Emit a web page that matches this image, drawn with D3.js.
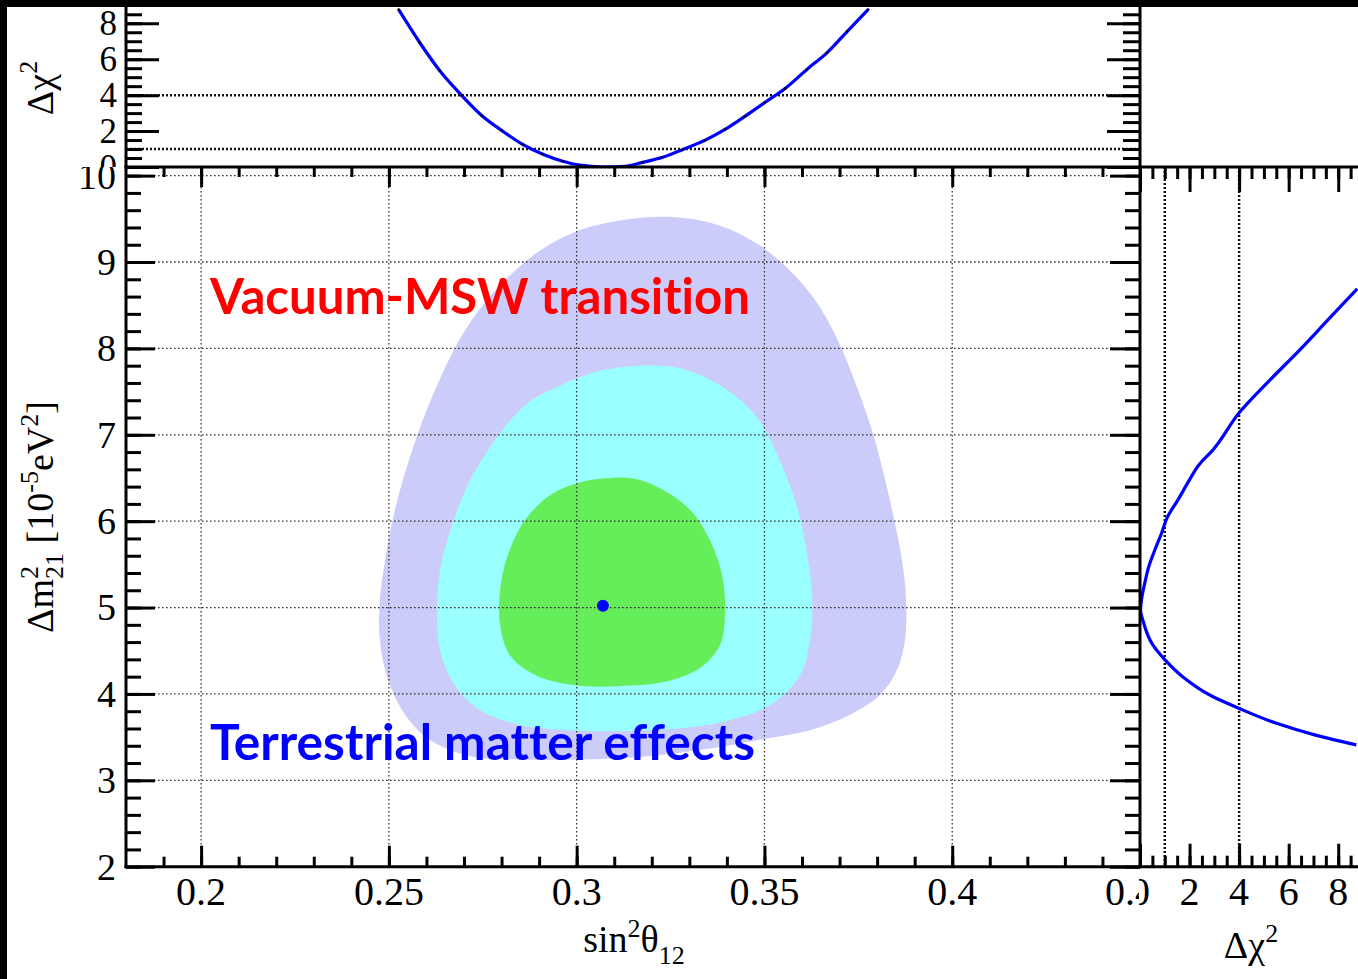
<!DOCTYPE html>
<html>
<head>
<meta charset="utf-8">
<script src="https://cdn.jsdelivr.net/npm/d3@7"></script>
<style>
  html, body { margin: 0; padding: 0; background: #fff; }
  svg { display: block; }
</style>
</head>
<body>
<svg id="chart" width="1358" height="979"></svg>
<script>
// ---------------- data ----------------
// Allowed regions in the (sin^2 theta12, dm2_21) plane, outer to inner
const outerRegion = [
  [0.3254, 9.52], [0.3382, 9.42], [0.3488, 9.19], [0.3568, 8.90], [0.3635, 8.56],
  [0.3696, 8.09], [0.3749, 7.52], [0.3794, 6.94], [0.3834, 6.24], [0.3866, 5.55],
  [0.3877, 5.09], [0.3874, 4.62], [0.3853, 4.28], [0.3808, 3.99], [0.3728, 3.76],
  [0.3621, 3.58], [0.3488, 3.47], [0.3328, 3.35], [0.3169, 3.27], [0.3009, 3.24],
  [0.2849, 3.24], [0.2716, 3.28], [0.2609, 3.47], [0.2543, 3.76], [0.2498, 4.16],
  [0.2476, 4.62], [0.2476, 5.09], [0.2490, 5.55], [0.2516, 6.13], [0.2562, 6.82],
  [0.2623, 7.52], [0.2703, 8.21], [0.2796, 8.73], [0.2902, 9.13], [0.3009, 9.37],
  [0.3129, 9.49]
];
const middleRegion = [
  [0.3169, 7.80], [0.3275, 7.77], [0.3382, 7.57], [0.3475, 7.23], [0.3541, 6.70],
  [0.3589, 6.13], [0.3616, 5.55], [0.3627, 5.09], [0.3621, 4.62], [0.3595, 4.22],
  [0.3515, 3.87], [0.3382, 3.67], [0.3195, 3.58], [0.2982, 3.58], [0.2849, 3.64],
  [0.2743, 3.81], [0.2676, 4.10], [0.2636, 4.51], [0.2628, 4.97], [0.2636, 5.43],
  [0.2668, 5.95], [0.2716, 6.47], [0.2783, 6.94], [0.2862, 7.34], [0.2956, 7.57],
  [0.3062, 7.74]
];
const innerRegion = [
  [0.3089, 6.50], [0.3155, 6.49], [0.3222, 6.38], [0.3302, 6.13], [0.3355, 5.78],
  [0.3387, 5.38], [0.3395, 4.97], [0.3382, 4.57], [0.3328, 4.30], [0.3235, 4.14],
  [0.3115, 4.09], [0.2996, 4.10], [0.2889, 4.22], [0.2822, 4.45], [0.2796, 4.80],
  [0.2796, 5.20], [0.2817, 5.61], [0.2862, 6.01], [0.2929, 6.30], [0.3009, 6.45]
];
const bestFit = [0.307, 5.02];

// Marginal delta-chi2 profile vs sin^2 theta12 (top panel)
const topProfileSin2 = [0.2526, 0.2582, 0.2635, 0.2694, 0.2747, 0.2800, 0.2856, 0.2910,
  0.2963, 0.3008, 0.3070, 0.3128, 0.3176, 0.3229, 0.3283, 0.3341, 0.3395, 0.3448,
  0.3501, 0.3555, 0.3613, 0.3667, 0.3720, 0.3776];
const topProfileChi2 = [8.76, 6.93, 5.37, 3.98, 2.87, 2.04, 1.26, 0.71,
  0.32, 0.10, 0.00, 0.04, 0.26, 0.54, 0.98, 1.48, 2.09, 2.82,
  3.59, 4.37, 5.43, 6.37, 7.54, 8.76];

// Marginal delta-chi2 profile vs dm2_21 (right panel)
const rightProfileDm2 = [8.69, 8.35, 7.98, 7.63, 7.26, 6.82, 6.66, 6.44, 6.24, 6.05,
  5.86, 5.66, 5.47, 5.28, 5.09, 4.97, 4.86, 4.57, 4.40, 4.20, 3.97, 3.84, 3.66, 3.52, 3.41];
const rightProfileChi2 = [8.77, 7.65, 6.44, 5.23, 4.02, 2.93, 2.40, 1.92, 1.52, 1.11,
  0.87, 0.59, 0.35, 0.19, 0.06, 0.02, 0.11, 0.51, 0.99, 1.72, 2.93, 3.94, 5.51, 7.12, 8.73];

// Tick values and labels
const xTickValues = [0.2, 0.25, 0.3, 0.35, 0.4, 0.45];
const xTickLabels = ["0.2", "0.25", "0.3", "0.35", "0.4", "0.45"];
const yTickValues = [2, 3, 4, 5, 6, 7, 8, 9, 10];
const yTickLabels = ["2", "3", "4", "5", "6", "7", "8", "9", "10"];
const chi2TickValues = [0, 2, 4, 6, 8];
const chi2TickLabels = ["0", "2", "4", "6", "8"];
const chi2Levels = [1, 4];

// ---------------- layout ----------------
const W = 1358, H = 979;
const L = 126, R = 1140, T = 167, B = 866.7, TT = 8, RR = 1363;
const serif = "'Liberation Serif', 'Times New Roman', serif";

const svg = d3.select("#chart");
const defs = svg.append("defs");

const x = d3.scaleLinear([0.18, 0.45], [L, R]);
const y = d3.scaleLinear([2, 10.1], [B, T]);
const yTop = d3.scaleLinear([0, 8.85], [T, TT]);
const xRight = d3.scaleLinear([0, 9], [R, RR]);

function clipRect(id, x0, y0, w, h) {
  defs.append("clipPath").attr("id", id)
    .append("rect").attr("x", x0).attr("y", y0).attr("width", w).attr("height", h);
}
clipRect("clipMain", L, T, R - L, B - T);
clipRect("clipTop", L, TT - 8, R - L, T - TT + 8);
clipRect("clipRight", R, T, RR - R, B - T);
clipRect("clipBelowTop", 0, T, W, H - T);
clipRect("clipAboveTop", 0, 0, W, T);
clipRect("clipLeftOfRight", 0, 0, R - 1, H);
clipRect("clipRightOfMain", R - 1, 0, W, H);

svg.append("rect").attr("width", W).attr("height", H).attr("fill", "#fff");

// ---------------- main panel: regions ----------------
const area = d3.line().x(d => x(d[0])).y(d => y(d[1])).curve(d3.curveCatmullRomClosed.alpha(0.5));
const regions = svg.append("g").attr("clip-path", "url(#clipMain)");
regions.append("path").attr("d", area(outerRegion)).attr("fill", "#ccccfb");
regions.append("path").attr("d", area(middleRegion)).attr("fill", "#99ffff");
regions.append("path").attr("d", area(innerRegion)).attr("fill", "#66ee5a");

// grid lines
const grid = svg.append("g").attr("stroke", "#333").attr("stroke-width", 1.3)
  .attr("stroke-dasharray", "1.6,2.4");
grid.selectAll(".gx").data(xTickValues.filter(v => v < 0.449)).join("line")
  .attr("x1", d => x(d)).attr("x2", d => x(d)).attr("y1", T).attr("y2", B);
grid.selectAll(".gy").data(yTickValues.filter(v => v > 2)).join("line")
  .attr("x1", L).attr("x2", R).attr("y1", d => y(d)).attr("y2", d => y(d));

// best fit point
svg.append("circle").attr("cx", x(bestFit[0])).attr("cy", y(bestFit[1]))
  .attr("r", 6).attr("fill", "#0000ff");

// annotations
const noteFont = "Lato, 'Open Sans', sans-serif";
const noLig = "font-variant-ligatures: none; font-feature-settings: 'liga' 0, 'clig' 0, 'calt' 0, 'dlig' 0;";
svg.append("text").attr("x", 210).attr("y", 314).attr("style", noLig)
  .attr("font-family", noteFont).attr("font-weight", 700)
  .attr("font-size", 50).attr("fill", "#ff0000")
  .attr("textLength", 540).attr("lengthAdjust", "spacingAndGlyphs")
  .text("Vacuum-MSW transition");
svg.append("text").attr("x", 210).attr("y", 760).attr("style", noLig)
  .attr("font-family", noteFont).attr("font-weight", 700)
  .attr("font-size", 50).attr("fill", "#0000ff")
  .attr("textLength", 545).attr("lengthAdjust", "spacingAndGlyphs")
  .text("Terrestrial matter effects");

// ---------------- top panel ----------------
const topG = svg.append("g").attr("clip-path", "url(#clipTop)");
topG.selectAll(".lvl").data(chi2Levels).join("line")
  .attr("x1", L).attr("x2", R).attr("y1", d => yTop(d)).attr("y2", d => yTop(d))
  .attr("stroke", "#111").attr("stroke-width", 2.5).attr("stroke-dasharray", "2,2");
const topPts = topProfileSin2.map((s, i) => [s, topProfileChi2[i]]);
topG.append("path")
  .attr("d", d3.line().x(d => x(d[0])).y(d => yTop(d[1])).curve(d3.curveMonotoneX)(topPts))
  .attr("fill", "none").attr("stroke", "#0000ff").attr("stroke-width", 3.2);
topG.selectAll(".mk").data(topPts).join("circle")
  .attr("cx", d => x(d[0])).attr("cy", d => yTop(d[1])).attr("r", 1.3).attr("fill", "#000");

// ---------------- right panel ----------------
const rightG = svg.append("g").attr("clip-path", "url(#clipRight)");
rightG.selectAll(".lvl").data(chi2Levels).join("line")
  .attr("x1", d => xRight(d)).attr("x2", d => xRight(d)).attr("y1", T).attr("y2", B)
  .attr("stroke", "#111").attr("stroke-width", 2.5).attr("stroke-dasharray", "2,2");
const rightPts = rightProfileDm2.map((m, i) => [rightProfileChi2[i], m]);
rightG.append("path")
  .attr("d", d3.line().x(d => xRight(d[0])).y(d => y(d[1])).curve(d3.curveMonotoneY)(rightPts))
  .attr("fill", "none").attr("stroke", "#0000ff").attr("stroke-width", 3.2);

// ---------------- axes / ticks ----------------
function tickGroup(gen, tx, ty) {
  const g = svg.append("g").attr("transform", `translate(${tx},${ty})`).call(gen);
  g.select(".domain").remove();
  g.selectAll(".tick text").remove();
  g.selectAll(".tick line").attr("stroke", "#000").attr("stroke-width", 3);
  return g;
}
const xMinor = d3.range(19, 46).map(v => v / 100);
const yMinor = d3.range(0, 41).map(i => 2 + i * 0.2);
const topMinor = d3.range(0, 18).map(i => i * 0.5);
const rightMinor = d3.range(0, 19).map(i => i * 0.5);

// main panel
tickGroup(d3.axisBottom(x).tickValues(xMinor).tickSize(-10), 0, B);
tickGroup(d3.axisBottom(x).tickValues(xTickValues).tickSize(-21), 0, B);
tickGroup(d3.axisTop(x).tickValues(xMinor).tickSize(-10), 0, T);
tickGroup(d3.axisTop(x).tickValues(xTickValues).tickSize(-20), 0, T);
tickGroup(d3.axisLeft(y).tickValues(yMinor).tickSize(-15), L, 0);
tickGroup(d3.axisLeft(y).tickValues(yTickValues).tickSize(-29), L, 0);
tickGroup(d3.axisRight(y).tickValues(yMinor).tickSize(-15), R, 0);
tickGroup(d3.axisRight(y).tickValues(yTickValues).tickSize(-30), R, 0);

// top panel
tickGroup(d3.axisLeft(yTop).tickValues(topMinor).tickSize(-16), L, 0);
tickGroup(d3.axisLeft(yTop).tickValues(chi2TickValues).tickSize(-33), L, 0);
tickGroup(d3.axisRight(yTop).tickValues(topMinor).tickSize(-17), R, 0);
tickGroup(d3.axisRight(yTop).tickValues(chi2TickValues).tickSize(-33), R, 0);

// right panel
tickGroup(d3.axisBottom(xRight).tickValues(rightMinor).tickSize(-11), 0, B);
tickGroup(d3.axisBottom(xRight).tickValues(chi2TickValues).tickSize(-23), 0, B);
tickGroup(d3.axisTop(xRight).tickValues(rightMinor).tickSize(-12), 0, T);
tickGroup(d3.axisTop(xRight).tickValues(chi2TickValues).tickSize(-25), 0, T);

// frame lines
const frame = svg.append("g").attr("stroke", "#000").attr("stroke-width", 3)
  .attr("stroke-linecap", "square");
frame.append("line").attr("x1", L).attr("x2", L).attr("y1", TT).attr("y2", B);
frame.append("line").attr("x1", L).attr("x2", W + 5).attr("y1", B).attr("y2", B);
frame.append("line").attr("x1", R).attr("x2", R).attr("y1", 0).attr("y2", B);
frame.append("line").attr("x1", L).attr("x2", W + 5).attr("y1", T).attr("y2", T);

// ---------------- tick labels ----------------
const labels = svg.append("g").attr("font-family", serif).attr("fill", "#000");

labels.append("g").attr("clip-path", "url(#clipLeftOfRight)")
  .selectAll("text").data(xTickValues).join("text")
  .attr("x", d => x(d)).attr("y", 905).attr("text-anchor", "middle")
  .attr("font-size", 40).text((d, i) => xTickLabels[i]);

labels.append("g").attr("clip-path", "url(#clipRightOfMain)")
  .selectAll("text").data(chi2TickValues).join("text")
  .attr("x", d => xRight(d)).attr("y", 905).attr("text-anchor", "middle")
  .attr("font-size", 40).text((d, i) => chi2TickLabels[i]);

labels.append("g").attr("clip-path", "url(#clipBelowTop)")
  .selectAll("text").data(yTickValues).join("text")
  .attr("x", 116).attr("y", d => y(d)).attr("dy", "0.34em").attr("text-anchor", "end")
  .attr("font-size", 38).text((d, i) => yTickLabels[i]);

labels.append("g").attr("clip-path", "url(#clipAboveTop)")
  .selectAll("text").data(chi2TickValues).join("text")
  .attr("x", 117).attr("y", d => yTop(d)).attr("dy", "0.34em").attr("text-anchor", "end")
  .attr("font-size", 35).text((d, i) => chi2TickLabels[i]);

// ---------------- axis titles ----------------
const xt = labels.append("text").attr("x", 634).attr("y", 952)
  .attr("text-anchor", "middle").attr("font-size", 38);
xt.append("tspan").text("sin");
xt.append("tspan").attr("font-size", 26).attr("dy", -15).text("2");
xt.append("tspan").attr("dy", 15).text("θ");
xt.append("tspan").attr("font-size", 26).attr("dy", 12).text("12");

const rt = labels.append("text").attr("x", 1251).attr("y", 958)
  .attr("text-anchor", "middle").attr("font-size", 38);
rt.append("tspan").text("Δχ");
rt.append("tspan").attr("font-size", 26).attr("dy", -16).text("2");

const tt = labels.append("text").attr("transform", "translate(53,88) rotate(-90)")
  .attr("text-anchor", "middle").attr("font-size", 38);
tt.append("tspan").text("Δχ");
tt.append("tspan").attr("font-size", 26).attr("dy", -16).text("2");

const yt = labels.append("text").attr("transform", "translate(53,517) rotate(-90)")
  .attr("text-anchor", "middle").attr("font-size", 38);
yt.append("tspan").text("Δm");
yt.append("tspan").attr("font-size", 26).attr("dy", -15).text("2");
yt.append("tspan").attr("font-size", 26).attr("dx", -13).attr("dy", 25).text("21");
yt.append("tspan").attr("dy", -10).text(" [10");
yt.append("tspan").attr("font-size", 26).attr("dy", -15).text("-5");
yt.append("tspan").attr("dy", 15).text("eV");
yt.append("tspan").attr("font-size", 26).attr("dy", -15).text("2");
yt.append("tspan").attr("dy", 15).text("]");

// ---------------- outer dark border ----------------
svg.append("rect").attr("x", 0).attr("y", 0).attr("width", W).attr("height", 7).attr("fill", "#000");
svg.append("rect").attr("x", 0).attr("y", 0).attr("width", 7).attr("height", H).attr("fill", "#000");
</script>
</body>
</html>
